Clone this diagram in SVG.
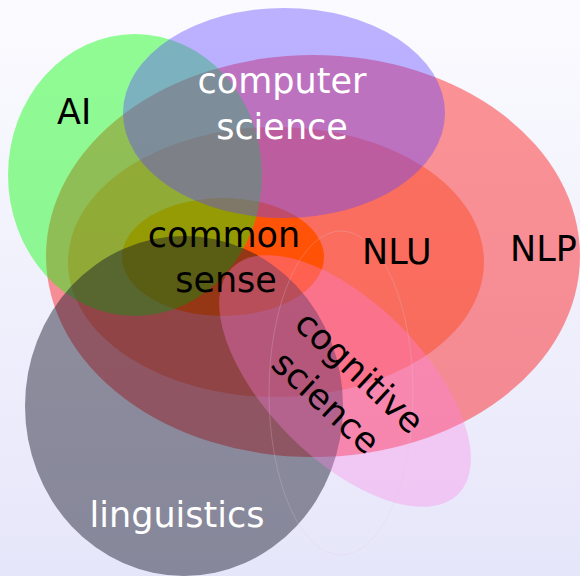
<svg xmlns="http://www.w3.org/2000/svg" width="580" height="576" viewBox="0 0 580 576">
  <defs>
    <linearGradient id="bg" x1="0" y1="0" x2="0" y2="1">
      <stop offset="0" stop-color="#fbfbff"/>
      <stop offset="1" stop-color="#e6e6fa"/>
    </linearGradient>
  </defs>
  <style>
    .lbl { font-family: "DejaVu Sans", "Liberation Sans", sans-serif; font-size: 35px; }
    .dark { fill: #000000; }
    .light { fill: #ffffff; }
  </style>
  <rect x="0" y="0" width="580" height="576" fill="url(#bg)"/>

  <g id="nlp">
    <ellipse cx="313" cy="256" rx="267" ry="201" fill="#ff0000" fill-opacity="0.41"/>
  </g>
  <g id="nlu">
    <ellipse cx="276" cy="262" rx="208" ry="135" fill="#ff3400" fill-opacity="0.36"/>
  </g>
  <g id="common-sense">
    <ellipse cx="223" cy="257" rx="101" ry="59" fill="#ff5000" fill-opacity="0.92"/>
  </g>
  <g id="ai">
    <ellipse cx="135" cy="175" rx="127" ry="141" fill="#00ff00" fill-opacity="0.42"/>
  </g>
  <g id="computer-science">
    <ellipse cx="284" cy="113" rx="161" ry="105" fill="#5f44ff" fill-opacity="0.4"/>
  </g>
  <g id="linguistics">
    <ellipse cx="184" cy="406" rx="159" ry="170" fill="#141428" fill-opacity="0.45"/>
  </g>
  <g id="cognitive-science">
    <ellipse cx="0" cy="0" rx="160" ry="78" transform="translate(345,381) rotate(45)" fill="#ff7fe6" fill-opacity="0.33"/>
  </g>
  <g id="faint-outline">
    <ellipse cx="341" cy="393" rx="72" ry="162" fill="none" stroke="#e0c8e0" stroke-opacity="0.25" stroke-width="1"/>
  </g>

  <g id="labels">
    <text class="lbl dark" x="57" y="124">AI</text>
    <text class="lbl light" text-anchor="middle"><tspan x="282" y="93">computer</tspan><tspan x="282" y="139">science</tspan></text>
    <text class="lbl dark" text-anchor="middle"><tspan x="224" y="247">common</tspan><tspan x="226" y="292">sense</tspan></text>
    <text class="lbl dark" x="362" y="264">NLU</text>
    <text class="lbl dark" x="510" y="261">NLP</text>
    <text class="lbl light" x="177" y="527" text-anchor="middle">linguistics</text>
    <text class="lbl dark" text-anchor="middle" transform="translate(341,389) rotate(43)"><tspan x="2" y="-13">cognitive</tspan><tspan x="-2" y="32">science</tspan></text>
  </g>
  <g id="connectors"/>
</svg>
